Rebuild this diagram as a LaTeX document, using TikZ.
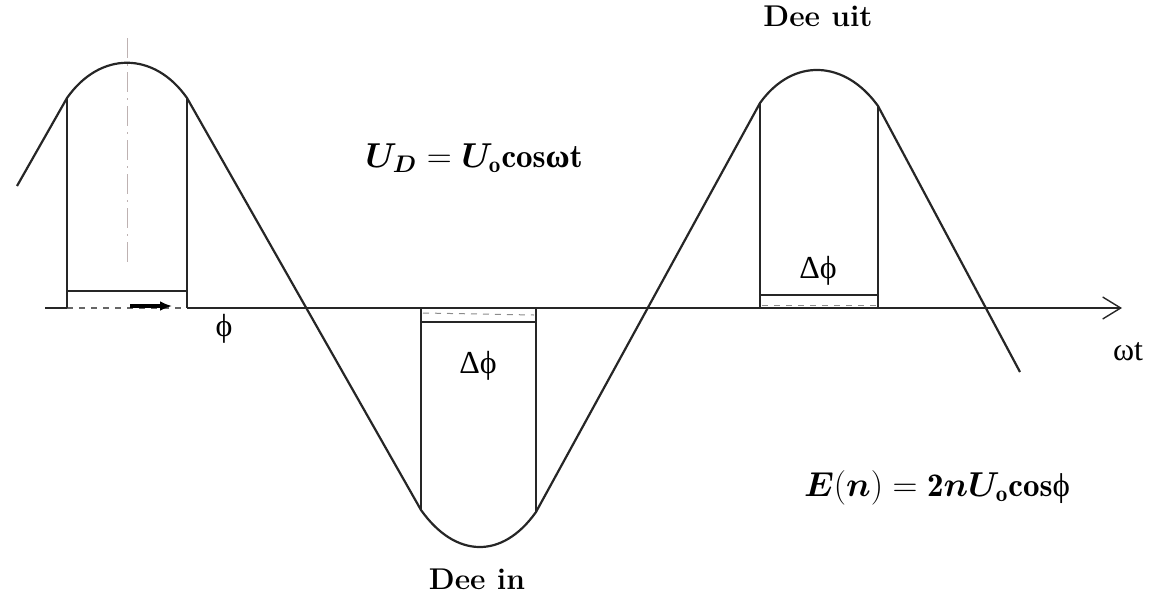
\documentclass[tikz,border=0pt]{standalone}
\usepackage{amsmath,bm}
\usepackage{fontspec}
\newfontfamily\grk{Liberation Serif}
\usetikzlibrary{arrows.meta}
\begin{document}
\begin{tikzpicture}[x=0.5pt,y=-0.5pt,
  curve/.style={line width=1.1pt,black!85,line join=round},
  boxline/.style={line width=0.8pt,black!85},
  axisline/.style={line width=0.7pt,black!85},
  lbl/.style={inner sep=0pt,font=\fontsize{16.5}{19}\selectfont},
  glbl/.style={inner sep=0pt,font=\fontsize{16}{19}\selectfont\grk},
  blbl/.style={inner sep=0pt,font=\fontsize{15}{18}\selectfont\bfseries}]
\useasboundingbox (0,0) rectangle (1152,595);
% guide line through the first peak
\draw[red!15!black!30,dash pattern=on 10pt off 3pt on 1pt off 3pt,line width=0.5pt] (127,38) -- (127,262);
% axis
\coordinate (a0) at (45,308);
\coordinate (a1) at (67,308);
\coordinate (a2) at (187,308);
\coordinate (aE) at (1122,308);
\draw[axisline] (a0) -- (a1);
\draw[axisline,dashed,black!60] (a1) -- (a2);
\draw[axisline,-{Straight Barb[length=9pt,width=11pt]}] (a2) -- (aE);
% corner points of the wave
\coordinate (s) at (17,186);
\coordinate (L1) at (67,98);
\coordinate (L2) at (187,98);
\coordinate (M1) at (421,510);
\coordinate (M2) at (536,512);
\coordinate (R1) at (760,103);
\coordinate (R2) at (878,106);
\coordinate (e) at (1020,372);
% wave: straight flanks and rounded caps
\draw[curve] (s) -- (L1) .. controls (100,51) and (154,51) .. (L2)
  -- (M1) .. controls (455,558) and (502,560) .. (M2)
  -- (R1) .. controls (793,57) and (845,60) .. (R2) -- (e);
% left box
\draw[boxline] (L1) -- (a1);
\draw[boxline] (L2) -- (a2);
\draw[boxline] (67,291) -- (187,291);
\draw[-{Latex[length=6pt,width=5pt]},line width=1.8pt] (130,306) -- (172,306);
% middle box
\draw[boxline] (421,308) -- (M1);
\draw[boxline] (536,308) -- (M2);
\draw[boxline] (421,322) -- (536,322);
\draw[black!45,dashed,line width=0.5pt] (423,313) -- (534,315);
% right box
\draw[boxline] (R1) -- (760,308);
\draw[boxline] (R2) -- (878,308);
\draw[boxline] (760,295) -- (878,295);
\draw[black!45,dashed,line width=0.5pt] (762,305) -- (876,305);
% labels
\node[glbl] (phi) at (224,329) {ϕ};
\node[glbl] (dphi1) at (478,366) {Δϕ};
\node[glbl] (dphi2) at (818,271) {Δϕ};
\node[glbl] (wt) at (1128,352) {ωt};
\node[blbl] (deeuit) at (818,16) {Dee uit};
\node[blbl] (deein) at (477,579) {Dee in};
\node[lbl] (ud) at (474,158) {$\bm{U}_{\bm{D}} = \bm{U}_{\mathbf{o}}\mathbf{cos}\text{\grk\bfseries ω}\mathbf{t}$};
\node[lbl] (en) at (937,488) {$\bm{E}\mathbf{(}\bm{n}\mathbf{)} = \mathbf{2}\bm{n}\bm{U}_{\mathbf{o}}\mathbf{cos}\text{\grk ϕ}$};
\end{tikzpicture}
\end{document}
